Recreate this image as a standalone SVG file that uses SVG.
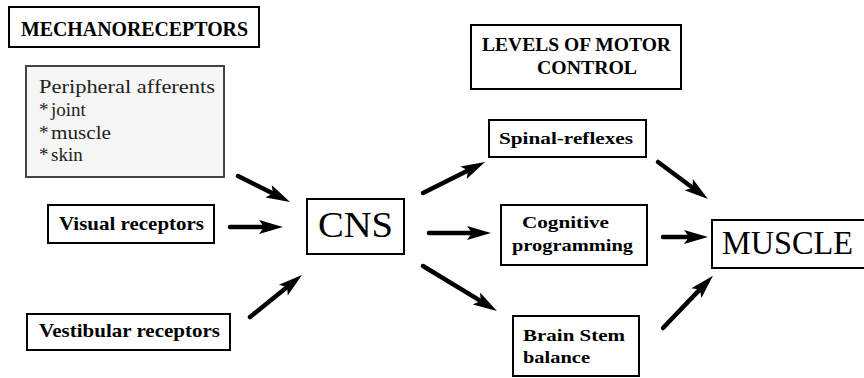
<svg xmlns="http://www.w3.org/2000/svg" width="864" height="378" viewBox="0 0 864 378">
<style>
.box{fill:#fff;stroke:#000;stroke-width:2}
.grey{fill:#f6f6f6;stroke:#444;stroke-width:2}
.t{font-family:"Liberation Serif","DejaVu Serif",serif;font-weight:bold;fill:#000}
.p{font-family:"Liberation Serif","DejaVu Serif",serif;fill:#222;font-size:19px}
.big{font-family:"Liberation Serif","DejaVu Serif",serif;fill:#000}
.arr{stroke:#000;stroke-width:4.5;fill:none;stroke-linecap:round;marker-end:url(#ah)}
</style>
<defs>
<marker id="ah" markerUnits="userSpaceOnUse" markerWidth="24" markerHeight="14" refX="10" refY="7" orient="auto" overflow="visible">
<path d="M0,0 L24,7 L0,14 L5,7 Z" fill="#000"/>
</marker>
</defs>
<rect width="864" height="378" fill="#fff"/>
<g id="mechanoreceptors">
<rect class="box" x="9" y="7" width="250" height="40"/>
<text class="t" x="21" y="36" font-size="21" textLength="227" lengthAdjust="spacingAndGlyphs">MECHANORECEPTORS</text>
</g>
<g id="peripheral">
<rect class="grey" x="26" y="66" width="198" height="111"/>
<text class="p" x="39" y="93" textLength="176" lengthAdjust="spacingAndGlyphs">Peripheral afferents</text>
<text class="p" x="39" y="116">*</text><text class="p" x="51" y="116">joint</text>
<text class="p" x="39" y="139">*</text><text class="p" x="51" y="139" textLength="60" lengthAdjust="spacingAndGlyphs">muscle</text>
<text class="p" x="39" y="161">*</text><text class="p" x="51" y="161">skin</text>
</g>
<g id="visual">
<rect class="box" x="48" y="205" width="166" height="38"/>
<text class="t" x="59" y="230" font-size="19" textLength="145" lengthAdjust="spacingAndGlyphs">Visual receptors</text>
</g>
<g id="vestibular">
<rect class="box" x="27" y="314" width="203" height="36"/>
<text class="t" x="39" y="337" font-size="19" textLength="181" lengthAdjust="spacingAndGlyphs">Vestibular receptors</text>
</g>
<g id="cns">
<rect class="box" x="307" y="199" width="97" height="55"/>
<text class="big" x="318" y="237" font-size="36" textLength="75" lengthAdjust="spacingAndGlyphs">CNS</text>
</g>
<g id="levels">
<rect class="box" x="471" y="25" width="210" height="64"/>
<text class="t" x="482" y="51" font-size="18" textLength="189" lengthAdjust="spacingAndGlyphs">LEVELS OF MOTOR</text>
<text class="t" x="537" y="74" font-size="18" textLength="100" lengthAdjust="spacingAndGlyphs">CONTROL</text>
</g>
<g id="spinal">
<rect class="box" x="489" y="120" width="157" height="37"/>
<text class="t" x="499" y="144" font-size="17" textLength="134" lengthAdjust="spacingAndGlyphs">Spinal-reflexes</text>
</g>
<g id="cognitive">
<rect class="box" x="501" y="205" width="146" height="60"/>
<text class="t" x="522" y="228" font-size="17" textLength="87" lengthAdjust="spacingAndGlyphs">Cognitive</text>
<text class="t" x="512" y="251" font-size="17" textLength="121" lengthAdjust="spacingAndGlyphs">programming</text>
</g>
<g id="brainstem">
<rect class="box" x="513" y="316" width="126" height="60"/>
<text class="t" x="523" y="341" font-size="17" textLength="102" lengthAdjust="spacingAndGlyphs">Brain Stem</text>
<text class="t" x="523" y="363" font-size="17" textLength="67" lengthAdjust="spacingAndGlyphs">balance</text>
</g>
<g id="muscle">
<rect class="box" x="712" y="220" width="160" height="48"/>
<text class="big" x="722" y="254" font-size="34" textLength="131" lengthAdjust="spacingAndGlyphs">MUSCLE</text>
</g>
<g id="connectors">
<line class="arr" x1="238" y1="176" x2="277.5" y2="195.7"/>
<line class="arr" x1="230" y1="227" x2="269" y2="227"/>
<line class="arr" x1="250" y1="317" x2="291.1" y2="283.8"/>
<line class="arr" x1="423" y1="193" x2="472.5" y2="168.3"/>
<line class="arr" x1="429" y1="233" x2="477" y2="233"/>
<line class="arr" x1="423" y1="266" x2="485" y2="303.7"/>
<line class="arr" x1="658" y1="162" x2="696.7" y2="190.7"/>
<line class="arr" x1="663" y1="237" x2="694" y2="237"/>
<line class="arr" x1="663" y1="328" x2="703.3" y2="285.9"/>
</g>
</svg>
